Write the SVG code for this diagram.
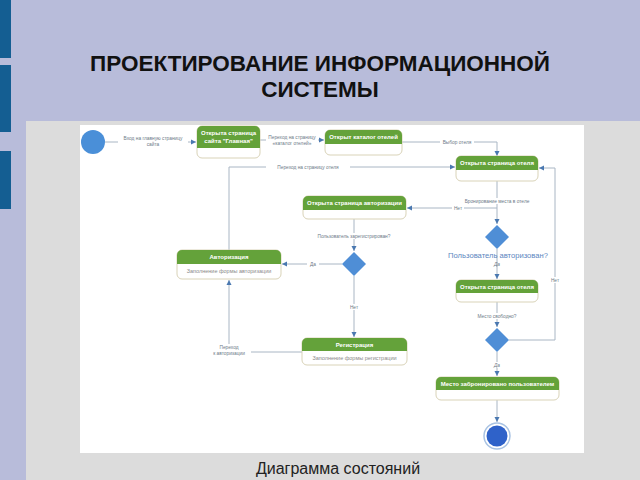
<svg xmlns="http://www.w3.org/2000/svg" width="640" height="480" viewBox="0 0 640 480">
<defs>
<marker id="arr" markerWidth="6" markerHeight="6" refX="5" refY="3" orient="auto" markerUnits="userSpaceOnUse">
<path d="M0,0.5 L5,3 L0,5.5 Z" fill="#4a78b0"/>
</marker>
</defs>
<style>
.title{font-family:"Liberation Sans",Arial,sans-serif;font-weight:bold;font-size:22.5px;fill:#111;text-anchor:middle}
.cap{font-family:"Liberation Sans",Arial,sans-serif;font-size:16px;fill:#222;text-anchor:middle}
.box{fill:#fff;stroke:#d9d3b8;stroke-width:1}
.hdr{fill:#64a23a}
.ht{font-family:"Liberation Sans",Arial,sans-serif;font-weight:bold;font-size:6px;fill:#fff;text-anchor:middle}
.bt{font-family:"Liberation Sans",Arial,sans-serif;font-size:5.5px;fill:#8a8a8a;text-anchor:middle}
.lbl{font-family:"Liberation Sans",Arial,sans-serif;font-size:4.8px;fill:#6d7a88;text-anchor:middle}
.q{font-family:"Liberation Sans",Arial,sans-serif;font-size:7.6px;fill:#5a86c0;text-anchor:middle}
.ln{fill:none;stroke:#a9b6c4;stroke-width:1}
.dia{fill:#4f8ed6}
</style>
<rect width="640" height="480" fill="#b8bcda"/>
<rect x="0" y="0" width="11" height="58" fill="#145e92"/>
<rect x="0" y="65" width="11" height="67" fill="#145e92"/>
<rect x="0" y="151" width="11" height="58" fill="#145e92"/>
<rect x="26" y="121" width="614" height="359" fill="#dcdcdc"/>
<rect x="80" y="125" width="504" height="328" fill="#ffffff"/>
<text class="title" x="320" y="71">ПРОЕКТИРОВАНИЕ ИНФОРМАЦИОННОЙ</text>
<text class="title" x="320" y="97">СИСТЕМЫ</text>
<text class="cap" x="338" y="474">Диаграмма состояний</text>

<g id="connectors">
<path class="ln" d="M105,142 H196" marker-end="url(#arr)"/>
<path class="ln" d="M260,140 H324" marker-end="url(#arr)"/>
<path class="ln" d="M402,142 H497 V156" marker-end="url(#arr)"/>
<path class="ln" d="M229,250 V167 H455" marker-end="url(#arr)"/>
<path class="ln" d="M509,340 H555 V168 H539" marker-end="url(#arr)"/>
<path class="ln" d="M497,181 V224" marker-end="url(#arr)"/>
<path class="ln" d="M497,208 H407" marker-end="url(#arr)"/>
<path class="ln" d="M497,249 V279" marker-end="url(#arr)"/>
<path class="ln" d="M497,302 V327" marker-end="url(#arr)"/>
<path class="ln" d="M497,352 V376" marker-end="url(#arr)"/>
<path class="ln" d="M497,400 V422" marker-end="url(#arr)"/>
<path class="ln" d="M354,219 V251" marker-end="url(#arr)"/>
<path class="ln" d="M342,264 H282" marker-end="url(#arr)"/>
<path class="ln" d="M354,276 V337" marker-end="url(#arr)"/>
<path class="ln" d="M302,352 H229 V280" marker-end="url(#arr)"/>
<rect x="118" y="135" width="70" height="13" fill="#fff"/>
<text class="lbl" x="153" y="140">Вход на главную страницу</text>
<text class="lbl" x="153" y="146">сайта</text>
<rect x="266" y="134" width="52" height="13" fill="#fff"/>
<text class="lbl" x="292" y="139">Переход на страницу</text>
<text class="lbl" x="292" y="145">«каталог отелей»</text>
<rect x="440" y="139" width="34" height="6" fill="#fff"/>
<text class="lbl" x="457" y="144">Выбор отеля</text>
<rect x="266" y="164" width="84" height="6" fill="#fff"/>
<text class="lbl" x="308" y="169">Переход на страницу отеля</text>
<rect x="458" y="198" width="78" height="6" fill="#fff"/>
<text class="lbl" x="497" y="203">Бронирование места в отеле</text>
<rect x="452" y="205" width="12" height="6" fill="#fff"/>
<text class="lbl" x="458" y="210">Нет</text>
<text class="q" x="498" y="258">Пользователь авторизован?</text>
<text class="lbl" x="497" y="266" font-style="italic">Да</text>
<rect x="548" y="277" width="14" height="6" fill="#fff"/>
<text class="lbl" x="555" y="282">Нет</text>
<rect x="474" y="313" width="46" height="6" fill="#fff"/>
<text class="lbl" x="497" y="318">Место свободно?</text>
<rect x="491" y="362" width="12" height="6" fill="#fff"/>
<text class="lbl" x="497" y="367" font-style="italic">Да</text>
<rect x="312" y="233" width="84" height="6" fill="#fff"/>
<text class="lbl" x="354" y="238">Пользователь зарегистрирован?</text>
<rect x="307" y="261" width="12" height="6" fill="#fff"/>
<text class="lbl" x="313" y="266">Да</text>
<rect x="348" y="304" width="12" height="6" fill="#fff"/>
<text class="lbl" x="354" y="309">Нет</text>
<rect x="207" y="344" width="44" height="13" fill="#fff"/>
<text class="lbl" x="229" y="349">Переход</text>
<text class="lbl" x="229" y="355">к авторизации</text>
</g>

<g id="start"><circle cx="93" cy="142" r="12" fill="#4a8fd8"/></g>

<g id="n-main">
<rect class="box" x="197" y="126" width="63" height="32" rx="5"/>
<path class="hdr" d="M202,126 H255 A5,5 0 0 1 260,131 V148 H197 V131 A5,5 0 0 1 202,126 Z"/>
<text class="ht" x="228.5" y="135">Открыта страница</text>
<text class="ht" x="228.5" y="143">сайта "Главная"</text>
</g>

<g id="n-catalog">
<rect class="box" x="325" y="130" width="77" height="25" rx="5"/>
<path class="hdr" d="M330,130 H397 A5,5 0 0 1 402,135 V144 H325 V135 A5,5 0 0 1 330,130 Z"/>
<text class="ht" x="363.5" y="139">Открыт каталог отелей</text>
</g>

<g id="n-hotel1">
<rect class="box" x="456" y="156" width="82" height="25" rx="5"/>
<path class="hdr" d="M461,156 H533 A5,5 0 0 1 538,161 V170 H456 V161 A5,5 0 0 1 461,156 Z"/>
<text class="ht" x="497" y="165">Открыта страница отеля</text>
</g>

<g id="n-authpage">
<rect class="box" x="303" y="196" width="103" height="23" rx="5"/>
<path class="hdr" d="M308,196 H401 A5,5 0 0 1 406,201 V210 H303 V201 A5,5 0 0 1 308,196 Z"/>
<text class="ht" x="354.5" y="205">Открыта страница авторизации</text>
</g>

<g id="n-auth">
<rect class="box" x="177" y="250" width="104" height="29" rx="5"/>
<path class="hdr" d="M182,250 H276 A5,5 0 0 1 281,255 V264 H177 V255 A5,5 0 0 1 182,250 Z"/>
<text class="ht" x="229" y="259">Авторизация</text>
<text class="bt" x="229" y="273">Заполнение формы авторизации</text>
</g>

<g id="n-reg">
<rect class="box" x="302" y="338" width="105" height="27" rx="5"/>
<path class="hdr" d="M307,338 H402 A5,5 0 0 1 407,343 V351 H302 V343 A5,5 0 0 1 307,338 Z"/>
<text class="ht" x="354.5" y="347">Регистрация</text>
<text class="bt" x="354.5" y="360">Заполнение формы регистрации</text>
</g>

<g id="n-hotel2">
<rect class="box" x="456" y="280" width="82" height="22" rx="5"/>
<path class="hdr" d="M461,280 H533 A5,5 0 0 1 538,285 V293 H456 V285 A5,5 0 0 1 461,280 Z"/>
<text class="ht" x="497" y="289">Открыта страница отеля</text>
</g>

<g id="n-booked">
<rect class="box" x="436" y="377" width="123" height="23" rx="5"/>
<path class="hdr" d="M441,377 H554 A5,5 0 0 1 559,382 V390 H436 V382 A5,5 0 0 1 441,377 Z"/>
<text class="ht" x="497.5" y="386">Место забронировано пользователем</text>
</g>

<g id="d-authorized"><path class="dia" d="M497,225 L509,237 L497,249 L485,237 Z"/></g>
<g id="d-free"><path class="dia" d="M497,328 L509,340 L497,352 L485,340 Z"/></g>
<g id="d-registered"><path class="dia" d="M354,252 L366,264 L354,276 L342,264 Z"/></g>

<g id="end">
<circle cx="497" cy="436" r="13" fill="#fff" stroke="#a9c3e3" stroke-width="1.5"/>
<circle cx="497" cy="436" r="10.5" fill="#2f62c9"/>
</g>
</svg>
